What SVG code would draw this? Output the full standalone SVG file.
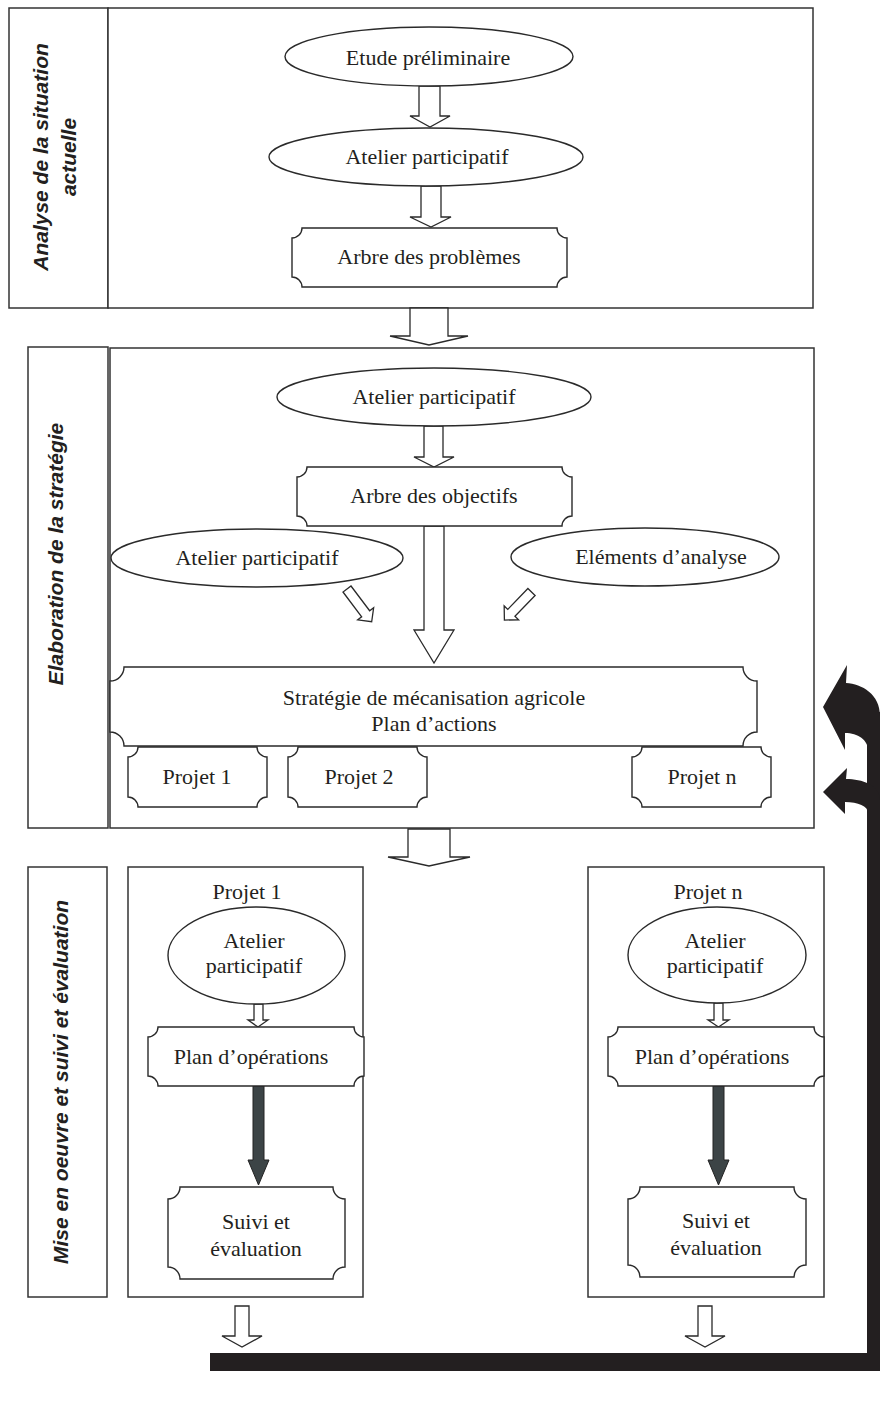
<svg xmlns="http://www.w3.org/2000/svg" width="880" height="1403" viewBox="0 0 880 1403">
  <defs>
    <style>
      .frame { fill: #ffffff; stroke: #333333; stroke-width: 1.5; }
      .shape { fill: #ffffff; stroke: #2a2a2a; stroke-width: 1.4; }
      .hollow { fill: #ffffff; stroke: #2a2a2a; stroke-width: 1.3; stroke-linejoin: miter; }
      .dark { fill: #3c4446; stroke: #222222; stroke-width: 1; }
      .solid { fill: #231f20; }
      .lbl { font-family: "Liberation Serif", "Times New Roman", serif; font-size: 22px; fill: #231f20; text-anchor: middle; }
      .phase { font-family: "Liberation Sans", Arial, sans-serif; font-size: 21px; font-weight: bold; font-style: italic; fill: #231f20; text-anchor: middle; }
    </style>
  </defs>

  <rect width="880" height="1403" fill="#ffffff"/>

  <!-- Phase 1 -->
  <g id="phase1">
    <rect class="frame" x="9" y="8" width="99" height="300"/>
    <rect class="frame" x="108" y="8" width="705" height="300"/>
    <text class="phase" transform="translate(48,157) rotate(-90)">Analyse de la situation</text>
    <text class="phase" transform="translate(76,157) rotate(-90)">actuelle</text>
  </g>

  <!-- Phase 2 -->
  <g id="phase2">
    <rect class="frame" x="28" y="347" width="80" height="481"/>
    <rect class="frame" x="110" y="348" width="704" height="480"/>
    <text class="phase" transform="translate(63,554) rotate(-90)">Elaboration de la stratégie</text>
  </g>

  <!-- Phase 3 -->
  <g id="phase3">
    <rect class="frame" x="28" y="867" width="79" height="430"/>
    <text class="phase" transform="translate(68,1082) rotate(-90)">Mise en oeuvre et suivi et évaluation</text>
  </g>

  <g id="projet1-box">
    <rect class="frame" x="128" y="867" width="235" height="430"/>
    <text class="lbl" x="247" y="899">Projet 1</text>
  </g>
  <g id="projetn-box">
    <rect class="frame" x="588" y="867" width="236" height="430"/>
    <text class="lbl" x="708" y="899">Projet n</text>
  </g>

  <!-- Connectors -->
  <g id="connectors">
    <polygon class="hollow" points="419,86 440,86 440,116 450,116 430,127 410,116 419,116"/>
    <polygon class="hollow" points="421,186 441,186 441,217 451,217 431,227 410,217 421,217"/>
    <polygon class="hollow" points="410,308 448,308 448,336 468,336 429,345 390,336 410,336"/>
    <polygon class="hollow" points="424,426 443,426 443,457 454,457 434,467 414,457 424,457"/>
    <polygon class="hollow" points="424,526 444,526 444,630 454,630 434,663 414,630 424,630"/>
    <polygon class="hollow" transform="translate(347,589) rotate(53)" points="0,-5 31,-5 31,-10 41,0 31,10 31,5 0,5"/>
    <polygon class="hollow" transform="translate(531.5,592) rotate(134)" points="0,-5 29,-5 29,-10 39,0 29,10 29,5 0,5"/>
    <polygon class="hollow" points="408,829 450,829 450,857 470,857 429,866 388,857 408,857"/>
    <polygon class="hollow" points="254,1004 263,1004 263,1020 268,1020 258,1027 248,1020 254,1020"/>
    <polygon class="hollow" points="714,1003 723,1003 723,1020 729,1020 718.5,1027 708,1020 714,1020"/>
    <polygon class="dark" points="253,1086 264,1086 264,1160 269,1160 258.5,1185 248,1160 253,1160"/>
    <polygon class="dark" points="713,1086 724,1086 724,1160 729,1160 718.5,1185 708,1160 713,1160"/>
    <polygon class="hollow" points="235,1306 249,1306 249,1336 262,1336 242,1347 222,1336 235,1336"/>
    <polygon class="hollow" points="698,1306 712,1306 712,1336 725,1336 705,1347 685,1336 698,1336"/>
    <!-- feedback loop -->
    <rect class="solid" x="210" y="1353" width="670" height="18"/>
    <rect class="solid" x="867" y="712" width="13" height="659"/>
    <path class="solid" d="M823,707 L847,665 L846,683 C862,684 880,694 880,716 L880,760 L868,760 L868,750 C868,740 858,733 845,733 L845,750 Z"/>
    <path class="solid" d="M823,792 L847,768 L846,779 C862,779 880,785 880,800 L880,830 L868,830 L868,813 C868,806 858,802 845,802 L845,814 Z"/>
  </g>

  <!-- Nodes -->
  <g id="etude">
    <ellipse class="shape" cx="429" cy="56.5" rx="144" ry="29.5"/>
    <text class="lbl" x="428" y="65">Etude préliminaire</text>
  </g>
  <g id="atelier1">
    <ellipse class="shape" cx="426" cy="157" rx="157" ry="29"/>
    <text class="lbl" x="427" y="164">Atelier participatif</text>
  </g>
  <g id="arbre-problemes">
    <path class="shape" d="M302,228 L557,228 A10,10 0 0 0 567,238 L567,277 A10,10 0 0 0 557,287 L302,287 A10,10 0 0 0 292,277 L292,238 A10,10 0 0 0 302,228 Z"/>
    <text class="lbl" x="429" y="264">Arbre des problèmes</text>
  </g>

  <g id="atelier2">
    <ellipse class="shape" cx="434" cy="397" rx="157" ry="29"/>
    <text class="lbl" x="434" y="404">Atelier participatif</text>
  </g>
  <g id="arbre-objectifs">
    <path class="shape" d="M307,467 L562,467 A10,10 0 0 0 572,477 L572,516 A10,10 0 0 0 562,526 L307,526 A10,10 0 0 0 297,516 L297,477 A10,10 0 0 0 307,467 Z"/>
    <text class="lbl" x="434" y="503">Arbre des objectifs</text>
  </g>
  <g id="atelier3">
    <ellipse class="shape" cx="257" cy="558" rx="146" ry="29"/>
    <text class="lbl" x="257" y="565">Atelier participatif</text>
  </g>
  <g id="elements">
    <ellipse class="shape" cx="645" cy="557" rx="134" ry="29"/>
    <text class="lbl" x="661" y="564">Eléments d’analyse</text>
  </g>
  <g id="strategie">
    <path class="shape" d="M124,667 L743,667 A14,14 0 0 0 757,681 L757,732 A14,14 0 0 0 743,746 L124,746 A14,14 0 0 0 110,732 L110,681 A14,14 0 0 0 124,667 Z"/>
    <text class="lbl" x="434" y="705">Stratégie de mécanisation agricole</text>
    <text class="lbl" x="434" y="731">Plan d’actions</text>
  </g>
  <g id="projet1">
    <path class="shape" d="M138,747 L257,747 A10,10 0 0 0 267,757 L267,797 A10,10 0 0 0 257,807 L138,807 A10,10 0 0 0 128,797 L128,757 A10,10 0 0 0 138,747 Z"/>
    <text class="lbl" x="197" y="784">Projet 1</text>
  </g>
  <g id="projet2">
    <path class="shape" d="M298,747 L417,747 A10,10 0 0 0 427,757 L427,797 A10,10 0 0 0 417,807 L298,807 A10,10 0 0 0 288,797 L288,757 A10,10 0 0 0 298,747 Z"/>
    <text class="lbl" x="359" y="784">Projet 2</text>
  </g>
  <g id="projetn">
    <path class="shape" d="M642,747 L761,747 A10,10 0 0 0 771,757 L771,797 A10,10 0 0 0 761,807 L642,807 A10,10 0 0 0 632,797 L632,757 A10,10 0 0 0 642,747 Z"/>
    <text class="lbl" x="702" y="784">Projet n</text>
  </g>

  <g id="p1-atelier">
    <ellipse class="shape" cx="256.5" cy="955.5" rx="88.5" ry="48.5"/>
    <text class="lbl" x="254" y="948">Atelier</text>
    <text class="lbl" x="254" y="973">participatif</text>
  </g>
  <g id="p1-plan">
    <path class="shape" d="M158,1027 L354,1027 A10,10 0 0 0 364,1037 L364,1076 A10,10 0 0 0 354,1086 L158,1086 A10,10 0 0 0 148,1076 L148,1037 A10,10 0 0 0 158,1027 Z"/>
    <text class="lbl" x="251" y="1064">Plan d’opérations</text>
  </g>
  <g id="p1-suivi">
    <path class="shape" d="M180,1187 L333,1187 A12,12 0 0 0 345,1199 L345,1267 A12,12 0 0 0 333,1279 L180,1279 A12,12 0 0 0 168,1267 L168,1199 A12,12 0 0 0 180,1187 Z"/>
    <text class="lbl" x="256" y="1229">Suivi et</text>
    <text class="lbl" x="256" y="1256">évaluation</text>
  </g>

  <g id="pn-atelier">
    <ellipse class="shape" cx="717" cy="955" rx="89" ry="48"/>
    <text class="lbl" x="715" y="948">Atelier</text>
    <text class="lbl" x="715" y="973">participatif</text>
  </g>
  <g id="pn-plan">
    <path class="shape" d="M618,1027 L814,1027 A10,10 0 0 0 824,1037 L824,1076 A10,10 0 0 0 814,1086 L618,1086 A10,10 0 0 0 608,1076 L608,1037 A10,10 0 0 0 618,1027 Z"/>
    <text class="lbl" x="712" y="1064">Plan d’opérations</text>
  </g>
  <g id="pn-suivi">
    <path class="shape" d="M640,1187 L794,1187 A12,12 0 0 0 806,1199 L806,1265 A12,12 0 0 0 794,1277 L640,1277 A12,12 0 0 0 628,1265 L628,1199 A12,12 0 0 0 640,1187 Z"/>
    <text class="lbl" x="716" y="1228">Suivi et</text>
    <text class="lbl" x="716" y="1255">évaluation</text>
  </g>
</svg>
